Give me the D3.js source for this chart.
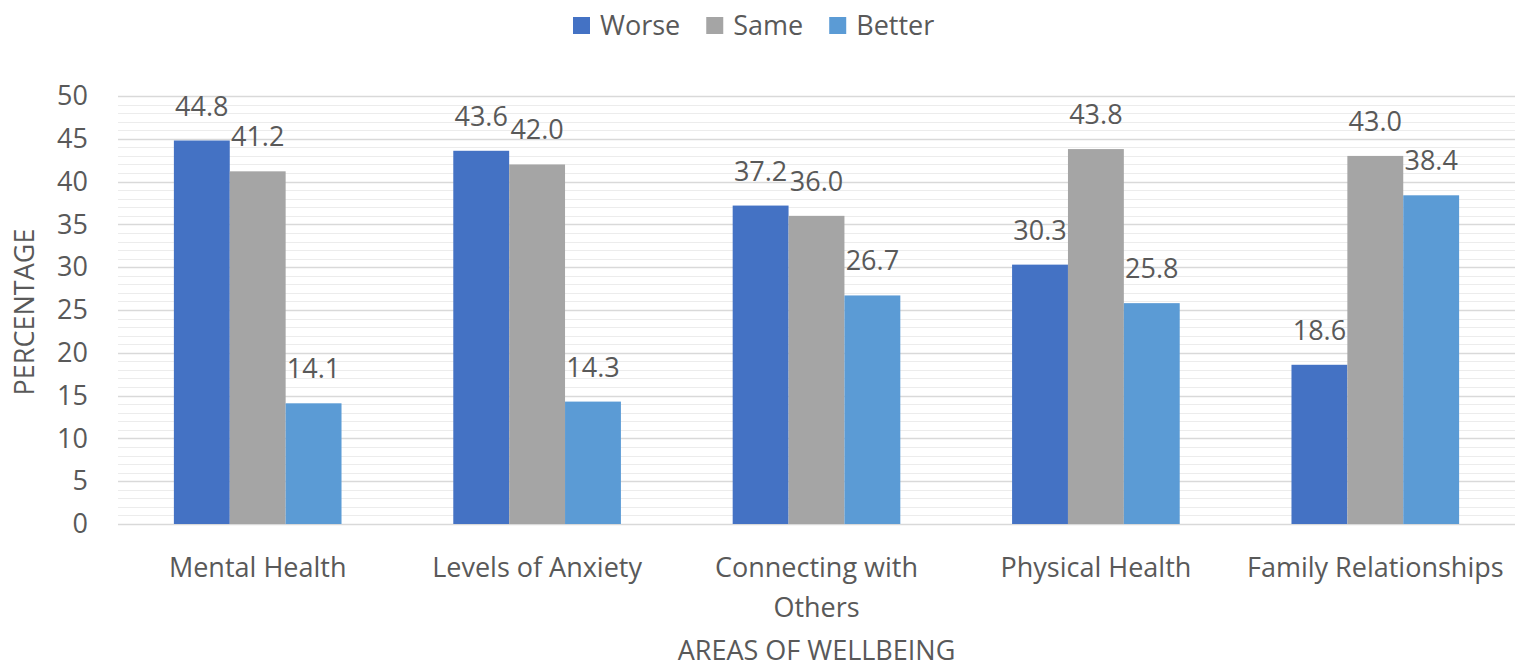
<!DOCTYPE html>
<html>
<head>
<meta charset="utf-8">
<script src="https://cdn.jsdelivr.net/npm/d3@7"></script>
<style>
  body { margin: 0; background: #fff; }
  text { font-family: "Open Sans", Lato, sans-serif; fill: #595959; }
</style>
</head>
<body>
<div id="chart"></div>
<script>
// chart data
var categories = ["Mental Health", "Levels of Anxiety", "Connecting with Others", "Physical Health", "Family Relationships"];
var seriesNames = ["Worse", "Same", "Better"];
var worse = [44.8, 43.6, 37.2, 30.3, 18.6];
var same = [41.2, 42.0, 36.0, 43.8, 43.0];
var better = [14.1, 14.3, 26.7, 25.8, 38.4];
var yTicks = [0, 5, 10, 15, 20, 25, 30, 35, 40, 45, 50];
var colors = ["#4472C4", "#A5A5A5", "#5B9BD5"];

var W = 1525, H = 670;
var margin = {top: 96, right: 10, bottom: 146, left: 118};
var width = W - margin.left - margin.right;
var height = H - margin.top - margin.bottom;
var FS = 27;

var svg = d3.select("#chart")
  .append("svg")
    .attr("width", W)
    .attr("height", H);

var g = svg.append("g")
    .attr("transform", "translate(" + margin.left + "," + margin.top + ")");

var rows = categories.map(function(c, i) {
  return {cat: c, vals: [worse[i], same[i], better[i]]};
});

var x0 = d3.scaleBand().domain(categories).range([0, width]);
var x1 = d3.scaleBand().domain(seriesNames).range([0, x0.bandwidth()]).paddingOuter(1);
var y = d3.scaleLinear().domain([0, 50]).range([height, 0]);

// minor gridlines every 1 unit
g.append("g")
  .selectAll("line")
  .data(d3.range(1, 50).filter(function(v) { return v % 5 !== 0; }))
  .enter().append("line")
    .attr("x1", 0).attr("x2", width)
    .attr("y1", function(d) { return Math.round(y(d)) + 0.5; })
    .attr("y2", function(d) { return Math.round(y(d)) + 0.5; })
    .attr("stroke", "#ececec")
    .attr("stroke-width", 1);

// major gridlines
g.append("g")
  .selectAll("line")
  .data(yTicks)
  .enter().append("line")
    .attr("x1", 0).attr("x2", width)
    .attr("y1", function(d) { return Math.round(y(d)) + 0.5; })
    .attr("y2", function(d) { return Math.round(y(d)) + 0.5; })
    .attr("stroke", "#d9d9d9")
    .attr("stroke-width", 1.5);

// y axis labels
var yAxis = g.append("g")
  .call(d3.axisLeft(y).tickValues(yTicks).tickSize(0).tickPadding(30));
yAxis.select(".domain").remove();
yAxis.selectAll("text")
  .attr("font-size", FS + "px")
  .style("font-family", "\"Open Sans\", Lato, sans-serif")
  .attr("fill", "#595959");

// bars
var groups = g.selectAll(".grp")
  .data(rows)
  .enter().append("g")
    .attr("class", "grp")
    .attr("transform", function(d) { return "translate(" + x0(d.cat) + ",0)"; });

groups.selectAll("rect")
  .data(function(d) { return d.vals.map(function(v, i) { return {s: seriesNames[i], v: v, i: i}; }); })
  .enter().append("rect")
    .attr("x", function(d) { return x1(d.s); })
    .attr("width", x1.bandwidth())
    .attr("y", function(d) { return y(d.v); })
    .attr("height", function(d) { return height - y(d.v); })
    .attr("fill", function(d) { return colors[d.i]; });

groups.selectAll(".lbl")
  .data(function(d) { return d.vals.map(function(v, i) { return {s: seriesNames[i], v: v, i: i}; }); })
  .enter().append("text")
    .attr("class", "lbl")
    .attr("x", function(d) { return x1(d.s) + x1.bandwidth() / 2; })
    .attr("y", function(d) { return y(d.v) - 25; })
    .attr("text-anchor", "middle")
    .attr("font-size", FS + "px")
    .text(function(d) { return d.v.toFixed(1); });

// x axis category labels (wrapped)
var xAxis = g.append("g")
  .attr("transform", "translate(0," + height + ")");
categories.forEach(function(c) {
  var lines = c === "Connecting with Others" ? ["Connecting with", "Others"] : [c];
  var t = xAxis.append("text")
    .attr("text-anchor", "middle")
    .attr("font-size", FS + "px")
    .attr("x", x0(c) + x0.bandwidth() / 2)
    .attr("y", 53);
  lines.forEach(function(l, k) {
    t.append("tspan")
      .attr("x", x0(c) + x0.bandwidth() / 2)
      .attr("dy", k === 0 ? 0 : 40)
      .text(l);
  });
});

// axis titles
svg.append("text")
  .attr("text-anchor", "middle")
  .attr("font-size", FS + "px")
  .attr("x", margin.left + width / 2)
  .attr("y", 660)
  .text("AREAS OF WELLBEING");

svg.append("text")
  .attr("text-anchor", "middle")
  .attr("font-size", FS + "px")
  .attr("transform", "translate(34," + (margin.top + height / 2 + 2) + ") rotate(-90)")
  .text("PERCENTAGE");

// legend
var legend = svg.append("g");
var lx = 573;
seriesNames.forEach(function(s, i) {
  legend.append("rect")
    .attr("x", lx).attr("y", 17)
    .attr("width", 17).attr("height", 17)
    .attr("fill", colors[i]);
  var t = legend.append("text")
    .attr("x", lx + 27).attr("y", 35)
    .attr("font-size", FS + "px")
    .text(s);
  lx += 27 + t.node().getComputedTextLength() + 26;
});
</script>
</body>
</html>
